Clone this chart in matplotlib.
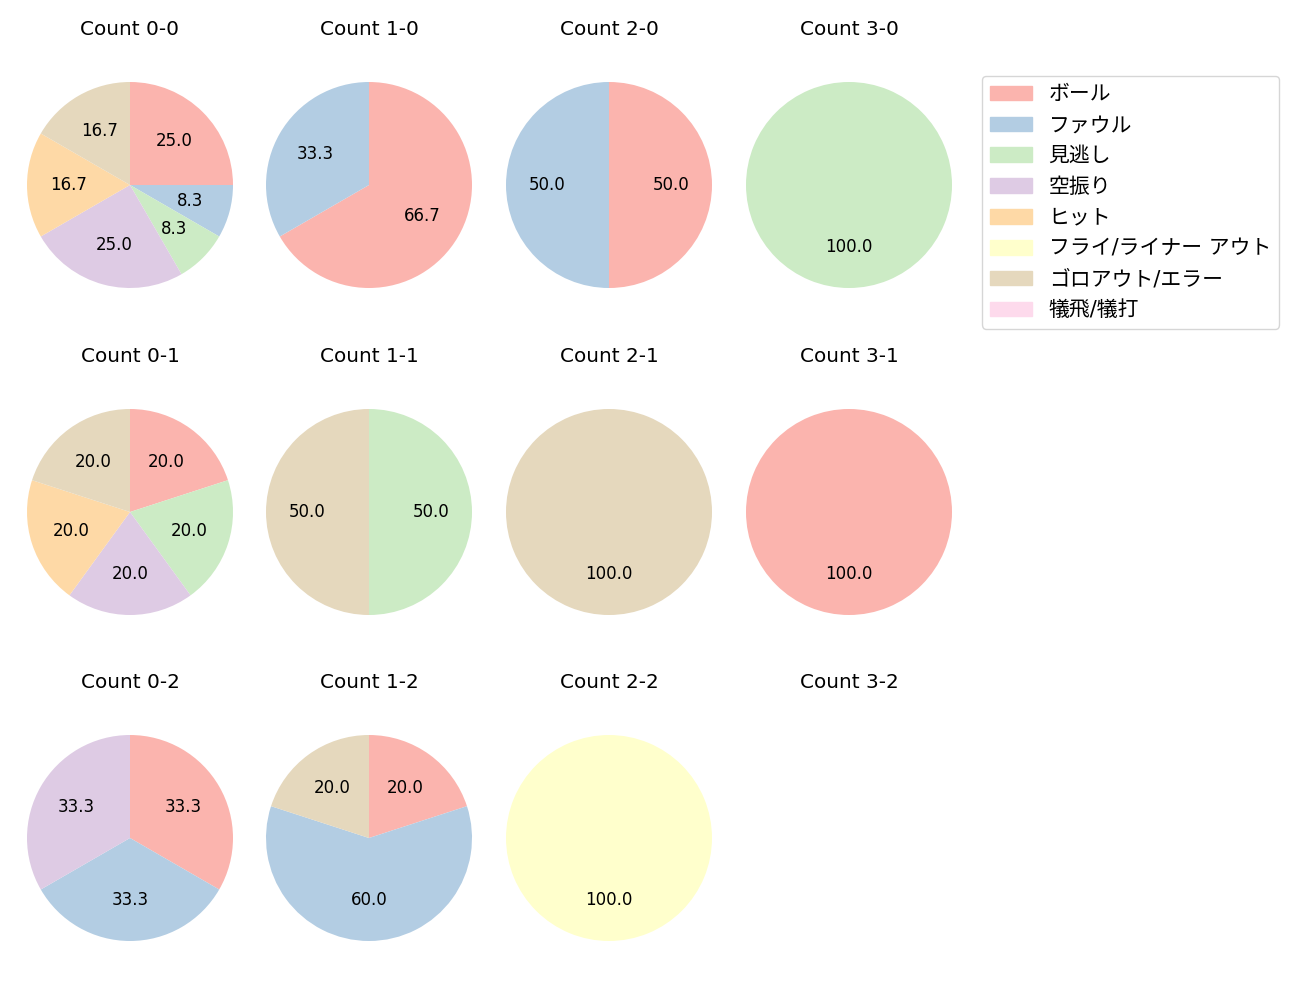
import matplotlib
matplotlib.use("Agg")
from matplotlib import pyplot as plt

plt.rcParams['font.family'] = ['DejaVu Sans', 'Noto Sans CJK JP']

categories = ['ボール', 'ファウル', '見逃し', '空振り', 'ヒット',
              'フライ/ライナー アウト', 'ゴロアウト/エラー', '犠飛/犠打']
colors = ['#fbb4ae', '#b3cde3', '#ccebc5', '#decbe4',
          '#fed9a6', '#ffffcc', '#e5d8bd', '#fddaec']

# counts per category, in the order of categories
count_0_0 = [3, 1, 1, 3, 2, 0, 2, 0]
count_1_0 = [2, 1, 0, 0, 0, 0, 0, 0]
count_2_0 = [1, 1, 0, 0, 0, 0, 0, 0]
count_3_0 = [0, 0, 1, 0, 0, 0, 0, 0]
count_0_1 = [1, 0, 1, 1, 1, 0, 1, 0]
count_1_1 = [0, 0, 1, 0, 0, 0, 1, 0]
count_2_1 = [0, 0, 0, 0, 0, 0, 1, 0]
count_3_1 = [1, 0, 0, 0, 0, 0, 0, 0]
count_0_2 = [1, 1, 0, 1, 0, 0, 0, 0]
count_1_2 = [1, 3, 0, 0, 0, 0, 1, 0]
count_2_2 = [0, 0, 0, 0, 0, 1, 0, 0]
count_3_2 = [0, 0, 0, 0, 0, 0, 0, 0]

grid = [
    [('0-0', count_0_0), ('1-0', count_1_0), ('2-0', count_2_0), ('3-0', count_3_0)],
    [('0-1', count_0_1), ('1-1', count_1_1), ('2-1', count_2_1), ('3-1', count_3_1)],
    [('0-2', count_0_2), ('1-2', count_1_2), ('2-2', count_2_2), ('3-2', count_3_2)],
]

W, H = 1300, 1000
fig = plt.figure(figsize=(13, 10), dpi=100)

col_x = [130, 369, 609, 849]
row_y = [185, 512, 838]
r_px = 103
aw, ah = 240, 286

for i, row in enumerate(grid):
    for j, (name, vals) in enumerate(row):
        cx, cy = col_x[j], row_y[i]
        ax = fig.add_axes([(cx - aw / 2) / W, 1 - (cy + ah / 2) / H, aw / W, ah / H])
        ax.set_title('Count ' + name, fontsize=14.4, pad=5)
        # skip empty categories so no 0.0 labels get drawn
        v = [x for x in vals if x > 0]
        c = [colors[k] for k, x in enumerate(vals) if x > 0]
        if v:
            ax.pie(v, colors=c, startangle=90, counterclock=False,
                   autopct='%.1f', textprops={'fontsize': 12})
        ax.set_xlim(-aw / 2 / r_px, aw / 2 / r_px)
        ax.set_ylim(-ah / 2 / r_px, ah / 2 / r_px)
        ax.set_aspect('auto')
        ax.axis('off')

handles = [plt.Rectangle((0, 0), 1, 1, color=col) for col in colors]
fig.legend(handles, categories, loc='upper left',
           bbox_to_anchor=(982 / W, 1 - 76 / H), borderaxespad=0,
           fontsize=15, labelspacing=0.52)

fig.savefig('out.png', dpi=100)
